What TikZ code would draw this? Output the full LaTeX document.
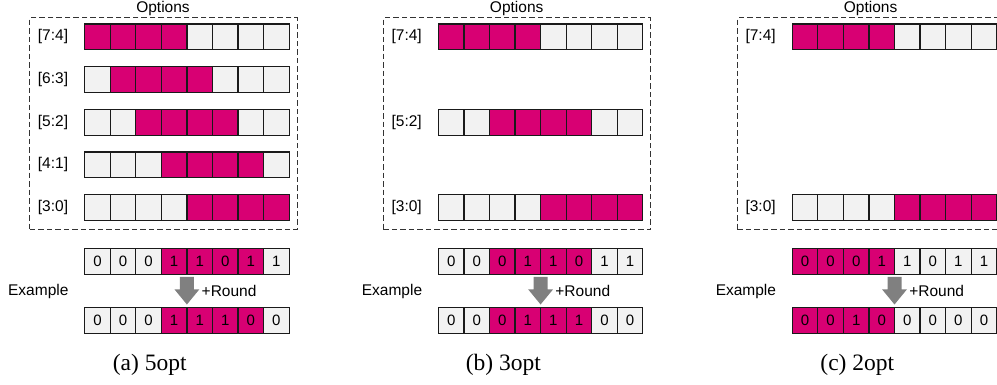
\documentclass[tikz,border=0pt]{standalone}
\usepackage{fontspec}
\setmainfont{Liberation Serif}
\setsansfont{Liberation Sans}
\usetikzlibrary{calc}

\definecolor{bitmag}{HTML}{D80073}
\definecolor{bitoff}{HTML}{F2F2F2}
\definecolor{arrowgray}{HTML}{808080}
\definecolor{edgegray}{HTML}{1A1A1A}

\tikzset{
  cell/.style={draw=edgegray, line width=1.2pt, fill=bitoff,
    minimum width=25.55pt, minimum height=25.8pt, inner sep=0pt, outer sep=0pt,
    anchor=north west, font=\sffamily\fontsize{15}{15}\selectfont},
  optbox/.style={draw=black!80, line width=0.9pt, dash pattern=on 5.5pt off 3pt},
  lbl/.style={font=\sffamily\fontsize{15.5}{16}\selectfont, inner sep=0pt},
  captext/.style={font=\fontsize{23.5}{25}\selectfont, inner sep=0pt, anchor=base},
  roundarrow/.style={fill=arrowgray, draw=none},
}

\begin{document}
\begin{tikzpicture}[x=1pt,y=-1pt]
\useasboundingbox (0,0) rectangle (997,385);

\foreach \p/\ox/\starts/\ms/\exa/\exb/\captxt in {
  a/0/{0,1,2,3,4}/3/{0,0,0,1,1,0,1,1}/{0,0,0,1,1,1,0,0}/{(a) 5opt},
  b/353.7/{0,2,4}/2/{0,0,0,1,1,0,1,1}/{0,0,0,1,1,1,0,0}/{(b) 3opt},
  c/707.6/{0,4}/0/{0,0,0,1,1,0,1,1}/{0,0,1,0,0,0,0,0}/{(c) 2opt}}
{
  % dashed frame holding the window options
  \node[optbox, inner sep=0pt, minimum width=267.4pt, minimum height=211.4pt,
        anchor=north west] (\p-box) at (29.3+\ox,17.3) {};
  \node[lbl, anchor=base] (\p-opt) at (163+\ox,12.6) {Options};

  % one bit row per option, with four highlighted bits
  \foreach \s in \starts {
    \pgfmathtruncatemacro\hi{7-\s}
    \pgfmathtruncatemacro\lo{4-\s}
    \pgfmathsetmacro\rowy{24+42.67*\s}
    \node[lbl] (\p-lbl\s) at (53+\ox,\rowy+12.9) {[\hi:\lo]};
    \foreach \i in {0,...,7} {
      \pgfmathtruncatemacro\on{and(\i>=\s,\i<\s+4)}
      \ifnum\on=1 \def\fc{bitmag}\else\def\fc{bitoff}\fi
      \node[cell, fill=\fc] (\p-r\s-c\i) at (84.7+\ox+25.55*\i,\rowy) {};
    }
  }

  % worked example: value before and after rounding
  \foreach \b [count=\k from 0] in \exa {
    \pgfmathtruncatemacro\on{and(\k>=\ms,\k<\ms+4)}
    \ifnum\on=1 \def\fc{bitmag}\else\def\fc{bitoff}\fi
    \node[cell, fill=\fc] (\p-t\k) at (84.7+\ox+25.55*\k,248.3) {\b};
  }
  \foreach \b [count=\k from 0] in \exb {
    \pgfmathtruncatemacro\on{and(\k>=\ms,\k<\ms+4)}
    \ifnum\on=1 \def\fc{bitmag}\else\def\fc{bitoff}\fi
    \node[cell, fill=\fc] (\p-b\k) at (84.7+\ox+25.55*\k,307.3) {\b};
  }

  \node[lbl] (\p-ex) at (38.3+\ox,291) {Example};

  % block arrow from the upper example row to the lower one
  \coordinate (\p-as) at ([yshift=-2.7pt]\p-t4.south west);
  \coordinate (\p-ae) at ([yshift=2.8pt]\p-b4.north west);
  \fill[roundarrow] ($(\p-as)+(-7,0)$) -- ($(\p-as)+(7,0)$)
    -- ($(\p-as)+(7,12.5)$) -- ($(\p-as)+(12.5,12.5)$) -- (\p-ae)
    -- ($(\p-as)+(-12.5,12.5)$) -- ($(\p-as)+(-7,12.5)$) -- cycle;
  \node[lbl, anchor=west] (\p-rnd) at (201.5+\ox,291) {+Round};

  \node[captext] (\p-cap) at (149.7+\ox,370) {\captxt};
}
\end{tikzpicture}
\end{document}
